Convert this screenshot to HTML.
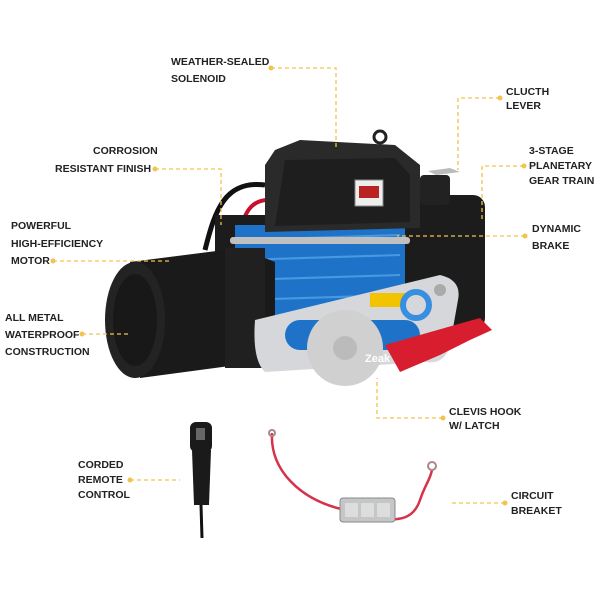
<!DOCTYPE html>
<html><head><style>
body{margin:0;background:#fff;width:600px;height:600px;overflow:hidden}
svg text{font-family:"Liberation Sans",sans-serif;font-size:10.5px;font-weight:bold;fill:#222;letter-spacing:0px}
</style></head><body>
<svg width="600" height="600" viewBox="0 0 600 600" xmlns="http://www.w3.org/2000/svg">
<rect width="600" height="600" fill="#fff"/>
<path d="M265 185 C225 180 215 210 205 250" stroke="#111" stroke-width="5" fill="none"/>
<path d="M268 200 C250 200 245 215 240 228" stroke="#c8102e" stroke-width="4" fill="none"/>
<rect x="400" y="195" width="85" height="135" rx="12" fill="#1c1c1c"/>
<rect x="420" y="175" width="30" height="30" rx="4" fill="#222"/>
<path d="M436 175 l-8 -4 l22 -3 l10 4 z" fill="#bbb"/>
<rect x="215" y="215" width="200" height="140" fill="#1c1c1c"/>
<rect x="235" y="225" width="170" height="125" fill="#1e73c8"/>
<g stroke="#5aa8ee" stroke-width="2" opacity="0.7">
<path d="M240 240 l160 -5 M240 260 l160 -5 M240 280 l160 -5 M240 300 l160 -5 M240 320 l160 -5 M240 340 l160 -5"/>
</g>
<rect x="230" y="237" width="180" height="7" rx="3" fill="#c0c0c0"/>
<path d="M275 150 L300 140 L395 145 L420 165 L420 228 L265 232 L265 165 Z" fill="#2a2a2a"/>
<path d="M285 160 L395 158 L410 175 L410 222 L275 226 Z" fill="#1e1e1e"/>
<rect x="355" y="180" width="28" height="26" fill="#eee" stroke="#888"/>
<rect x="359" y="186" width="20" height="12" fill="#b22"/>
<circle cx="380" cy="137" r="6" fill="none" stroke="#222" stroke-width="3"/>
<path d="M130 262 L240 248 L275 262 L275 360 L140 378 Z" fill="#1a1a1a"/>
<ellipse cx="135" cy="320" rx="30" ry="58" fill="#232323"/>
<ellipse cx="135" cy="320" rx="22" ry="46" fill="#181818"/>
<rect x="225" y="248" width="40" height="120" fill="#202020"/>
<path d="M255 320 L440 275 Q462 280 458 300 L450 345 Q445 365 425 362 L265 372 Q252 360 255 320 Z" fill="#d5d7da"/>
<rect x="285" y="320" width="135" height="30" rx="15" fill="#1e73c8"/>
<rect x="370" y="293" width="35" height="14" fill="#f2c400"/>
<circle cx="440" cy="290" r="6" fill="#aaa"/>
<circle cx="345" cy="348" r="38" fill="#d0d0d0"/>
<circle cx="345" cy="348" r="12" fill="#bbb"/>
<circle cx="416" cy="305" r="13" fill="none" stroke="#3a8ee0" stroke-width="6"/>
<path d="M385 345 L455 325 L480 318 L492 330 L470 340 L440 355 L400 372 Z" fill="#d81e2e"/>
<text x="365" y="362" style="fill:#fff;font-size:11px">Zeak</text>
<rect x="190" y="422" width="22" height="30" rx="6" fill="#1a1a1a"/>
<path d="M192 450 L211 450 L209 505 L194 505 Z" fill="#1a1a1a"/>
<rect x="196" y="428" width="9" height="12" fill="#666"/>
<path d="M201 505 L202 538" stroke="#111" stroke-width="3"/>
<path d="M272 433 C270 470 300 500 345 510 C380 518 410 530 420 500 C425 485 430 480 432 470" stroke="#d6324a" stroke-width="2.5" fill="none"/>
<circle cx="272" cy="433" r="3" fill="none" stroke="#a88" stroke-width="2"/>
<circle cx="432" cy="466" r="4" fill="none" stroke="#a88" stroke-width="2"/>
<rect x="340" y="498" width="55" height="24" rx="3" fill="#c4c6c8" stroke="#888"/>
<rect x="345" y="503" width="13" height="14" fill="#ddd"/><rect x="361" y="503" width="13" height="14" fill="#ddd"/><rect x="377" y="503" width="13" height="14" fill="#ddd"/>
<g stroke="#f2c44c" stroke-width="1.3" stroke-dasharray="4 3" fill="none">
<path d="M271 68 H336 V148"/>
<path d="M500 98 H458 V170"/>
<path d="M524 166 H482 V222"/>
<path d="M525 236 H397"/>
<path d="M155 169 H221 V225"/>
<path d="M53 261 H170"/>
<path d="M82 334 H130"/>
<path d="M443 418 H377 V378"/>
<path d="M130 480 H180"/>
<path d="M505 503 H450"/>
</g>
<g fill="#f2c44c">
<circle cx="271" cy="68" r="2.5"/><circle cx="500" cy="98" r="2.5"/><circle cx="524" cy="166" r="2.5"/>
<circle cx="525" cy="236" r="2.5"/><circle cx="155" cy="169" r="2.5"/><circle cx="53" cy="261" r="2.5"/>
<circle cx="82" cy="334" r="2.5"/><circle cx="443" cy="418" r="2.5"/><circle cx="130" cy="480" r="2.5"/>
<circle cx="505" cy="503" r="2.5"/>
</g>
<text x="171" y="65">WEATHER-SEALED</text><text x="171" y="82">SOLENOID</text>
<text x="506" y="95">CLUCTH</text><text x="506" y="109">LEVER</text>
<text x="529" y="154">3-STAGE</text><text x="529" y="169">PLANETARY</text><text x="529" y="184">GEAR TRAIN</text>
<text x="532" y="232">DYNAMIC</text><text x="532" y="249">BRAKE</text>
<text x="93" y="154">CORROSION</text><text x="55" y="172">RESISTANT FINISH</text>
<text x="11" y="229">POWERFUL</text><text x="11" y="247">HIGH-EFFICIENCY</text><text x="11" y="264">MOTOR</text>
<text x="5" y="321">ALL METAL</text><text x="5" y="338">WATERPROOF</text><text x="5" y="355">CONSTRUCTION</text>
<text x="449" y="415">CLEVIS HOOK</text><text x="449" y="429">W/ LATCH</text>
<text x="78" y="468">CORDED</text><text x="78" y="483">REMOTE</text><text x="78" y="498">CONTROL</text>
<text x="511" y="499">CIRCUIT</text><text x="511" y="514">BREAKET</text>
</svg>
</body></html>
